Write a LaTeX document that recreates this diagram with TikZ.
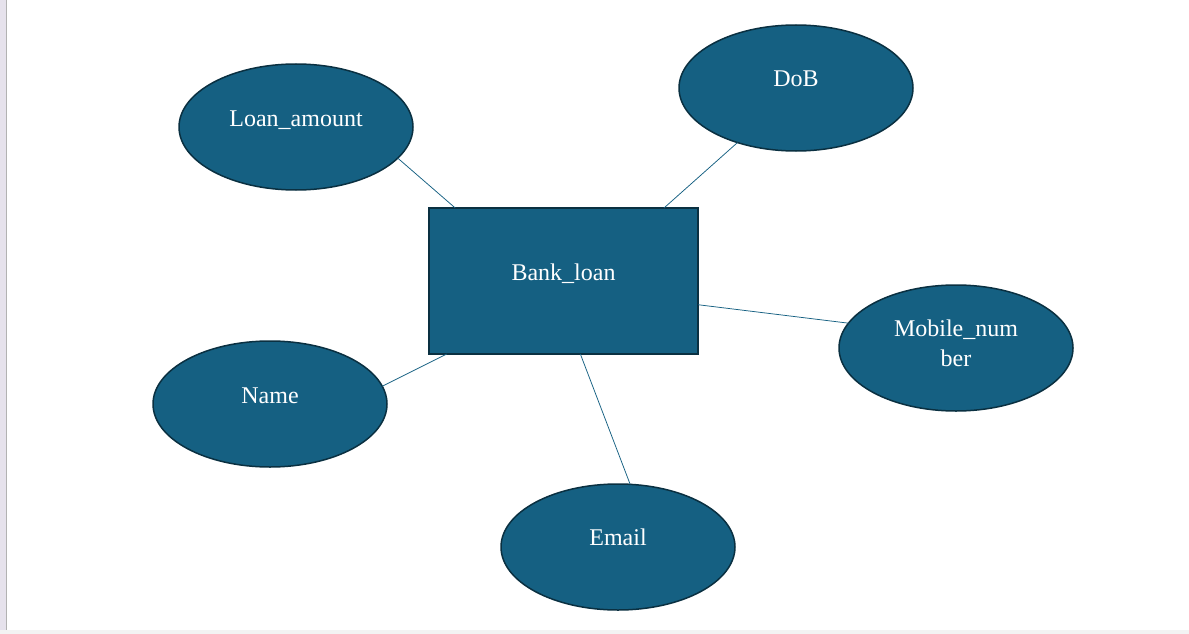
\documentclass[tikz,border=0pt]{standalone}
\usepackage{fontspec}
\setmainfont{Liberation Serif}
\usetikzlibrary{shapes.geometric}
\definecolor{erteal}{HTML}{156082}
\definecolor{erdark}{HTML}{0A3041}
\definecolor{erstrip}{HTML}{E6E2EC}
\definecolor{erfoot}{HTML}{F3F3F3}
\newcommand{\lift}[2][9pt]{\raisebox{#1}[\height][\depth]{#2}}
\begin{document}
\begin{tikzpicture}[x=1pt,y=-1pt,
  attr/.style={draw=erdark,line width=1.5pt,ellipse,fill=erteal,minimum width=234pt,minimum height=126pt,inner sep=0pt,outer sep=0pt,text=white,font=\fontsize{24}{30}\selectfont},
  entity/.style={draw=erdark,line width=1.5pt,rectangle,fill=erteal,minimum width=269pt,minimum height=146pt,inner sep=0pt,outer sep=0pt,text=white,font=\fontsize{24}{30}\selectfont},
  link/.style={erteal,line width=0.75pt}]
  \useasboundingbox (0,0) rectangle (1189,634);
  % Window edges
  \fill[white] (0,0) rectangle (1189,634);
  \fill[erstrip] (0,0) rectangle (6,630);
  \draw[black!30,line width=1pt] (6.5,0) -- (6.5,630);
  \fill[erfoot] (0,630) rectangle (1189,634);
  % Entity
  \node[entity] (bank) at (563.5,281) {\lift[7pt]{Bank\_loan}};
  % Attributes
  \node[attr] (loan) at (296,127) {\lift[7pt]{Loan\_amount}};
  \node[attr] (dob) at (796,88) {\lift{DoB}};
  \node[attr] (mobile) at (956,348) {\lift[3pt]{\begin{tabular}{@{}c@{}}Mobile\_num\\ber\end{tabular}}};
  \node[attr] (name) at (270,404) {\lift[8pt]{Name}};
  \node[attr] (email) at (618,547) {\lift[9.5pt]{Email}};
  % Links
  \foreach \a/\p/\b/\q in {loan/-17/bank/146.5, dob/-137/bank/36.3, mobile/167.7/bank/-10.9, name/9.5/bank/212.3, email/79/bank/-77.3}
    \draw[link] (\a.\p) -- (\b.\q);
\end{tikzpicture}
\end{document}
